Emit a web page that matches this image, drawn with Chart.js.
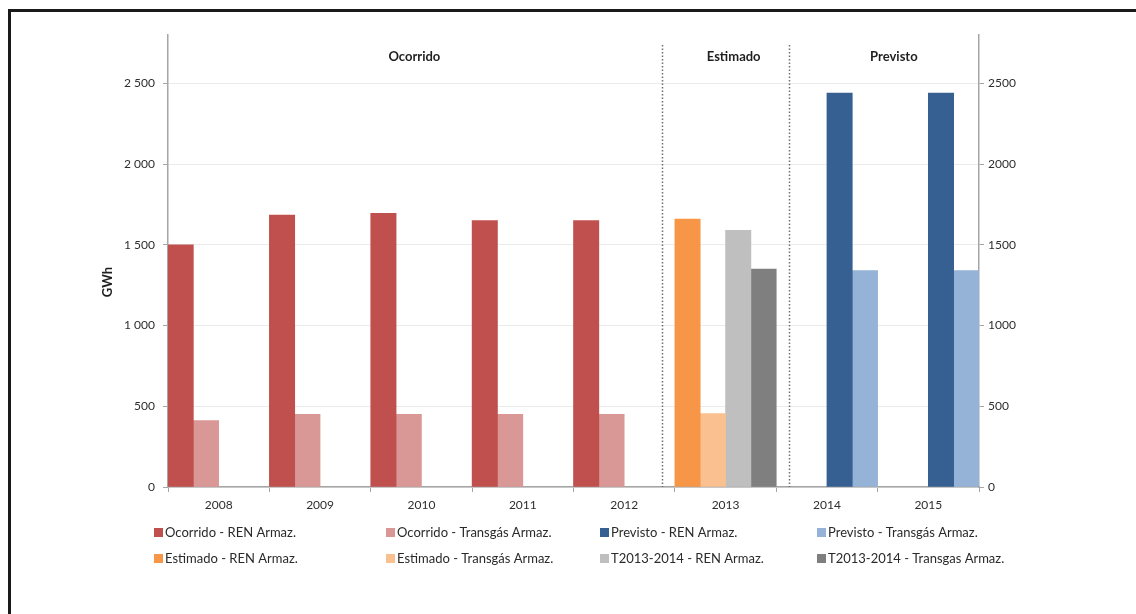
<!DOCTYPE html>
<html>
<head>
<meta charset="utf-8">
<script src="https://cdn.jsdelivr.net/npm/chart.js@4.4.0/dist/chart.umd.min.js"></script>
<style>
  html, body { margin: 0; padding: 0; background: #fff; overflow: hidden; }
  #frame { position: absolute; left: 8px; top: 9px; width: 1300px; height: 800px; border: 3px solid #1a1a1a; }
  #wrap { position: absolute; left: 0; top: 0; width: 1136px; height: 614px; }
</style>
</head>
<body>
<div id="frame"></div>
<div id="wrap"><canvas id="gas_chart" width="1136" height="614"></canvas></div>
<script>
// data
var years = ['2008', '2009', '2010', '2011', '2012', '2013', '2014', '2015']
var ocorridoREN      = [1500, 1685, 1695, 1650, 1650, null, null, null]
var ocorridoTransgas = [ 412,  450,  450,  450,  450, null, null, null]
var previstoREN      = [null, null, null, null, null, null, 2440, 2440]
var previstoTransgas = [null, null, null, null, null, null, 1340, 1340]
var estimadoREN      = [null, null, null, null, null, 1660, null, null]
var estimadoTransgas = [null, null, null, null, null,  455, null, null]
var t1314REN         = [null, null, null, null, null, 1590, null, null]
var t1314Transgas    = [null, null, null, null, null, 1350, null, null]
var yTicks = [0, 500, 1000, 1500, 2000, 2500]
var sectionNames = ['Ocorrido', 'Estimado', 'Previsto']

// where the section titles and dotted dividers sit on the category axis
var sectionAt = [1.93, 5.08, 6.66]
var dividerAt = [4.37, 5.63]

Chart.defaults.font.family = 'Lato'
Chart.defaults.font.size = 12
Chart.defaults.color = '#2e2e2e'

function spaced(v){ // 2500 -> "2 500"
  return String(v).replace(/\B(?=(\d{3})+(?!\d))/g, ' ')
}

var extras = {
  id: 'extras',
  afterDatasetsDraw: function(chart){
    var ctx = chart.ctx
    var x = chart.scales.x
    var area = chart.chartArea
    ctx.save()
    // dotted dividers
    ctx.strokeStyle = '#6e6e6e'
    ctx.lineWidth = 1.5
    ctx.setLineDash([1.5, 2])
    dividerAt.forEach(function(d){
      var px = Math.round(x.getPixelForValue(d)) + 0.5
      ctx.beginPath()
      ctx.moveTo(px, 45)
      ctx.lineTo(px, area.bottom)
      ctx.stroke()
    })
    ctx.setLineDash([])
    // section titles
    ctx.fillStyle = '#1f1f1f'
    ctx.font = 'bold 13px Lato'
    ctx.textAlign = 'center'
    ctx.textBaseline = 'middle'
    sectionNames.forEach(function(name, i){
      ctx.fillText(name, x.getPixelForValue(sectionAt[i]), 57)
    })
    // y axis title
    ctx.save()
    ctx.translate(108, 282)
    ctx.rotate(-Math.PI / 2)
    ctx.fillText('GWh', 0, 0)
    ctx.restore()
    // legend, 4 columns x 2 rows
    var cols = [154, 386, 600, 817]
    var rows = [533, 559]
    ctx.font = '13px Lato'
    ctx.textAlign = 'left'
    chart.data.datasets.forEach(function(ds, i){
      var lx = cols[i % 4]
      var ly = rows[Math.floor(i / 4)]
      ctx.fillStyle = ds.backgroundColor
      ctx.fillRect(lx, ly - 5, 9, 9)
      ctx.fillStyle = '#2a2a2a'
      ctx.fillText(ds.label, lx + 11, ly)
    })
    ctx.restore()
  }
}

var gas_canvas = document.getElementById('gas_chart')
var gas_chart = new Chart(gas_canvas.getContext('2d'), {
  type: 'bar',
  data: {
    labels: years,
    datasets: [
      { label: 'Ocorrido - REN Armaz.', data: ocorridoREN, backgroundColor: '#C0504D', stack: 's1' },
      { label: 'Ocorrido - Transgás Armaz.', data: ocorridoTransgas, backgroundColor: '#D99795', stack: 's2' },
      { label: 'Previsto - REN Armaz.', data: previstoREN, backgroundColor: '#366092', stack: 's3' },
      { label: 'Previsto - Transgás Armaz.', data: previstoTransgas, backgroundColor: '#95B3D7', stack: 's4' },
      { label: 'Estimado - REN Armaz.', data: estimadoREN, backgroundColor: '#F79646', stack: 's1' },
      { label: 'Estimado - Transgás Armaz.', data: estimadoTransgas, backgroundColor: '#FAC08F', stack: 's2' },
      { label: 'T2013-2014 - REN Armaz.', data: t1314REN, backgroundColor: '#BFBFBF', stack: 's3' },
      { label: 'T2013-2014 - Transgas Armaz.', data: t1314Transgas, backgroundColor: '#7F7F7F', stack: 's4' }
    ]
  },
  options: {
    responsive: false,
    animation: false,
    categoryPercentage: 1,
    barPercentage: 1,
    layout: { padding: { top: 35, left: 0, right: 0, bottom: 0 } },
    plugins: {
      legend: { display: false },
      tooltip: { enabled: false }
    },
    scales: {
      x: {
        stacked: true,
        grid: { offset: true, drawOnChartArea: false, tickLength: 5, color: '#a6a6a6' },
        border: { color: '#a6a6a6', width: 1.5 },
        ticks: { padding: 6, color: '#2e2e2e' },
        afterFit: function(s){ s.height = 127 }
      },
      y: {
        position: 'left',
        stacked: true,
        min: 0,
        max: 2800,
        afterBuildTicks: function(s){ s.ticks = yTicks.map(function(v){ return { value: v } }) },
        grid: { color: '#ebebeb', tickColor: '#a6a6a6', tickLength: 5 },
        border: { color: '#a6a6a6', width: 1.5 },
        ticks: { padding: 8, color: '#2e2e2e', callback: function(v){ return spaced(v) } },
        afterFit: function(s){ s.width = 168 }
      },
      y2: {
        position: 'right',
        min: 0,
        max: 2800,
        afterBuildTicks: function(s){ s.ticks = yTicks.map(function(v){ return { value: v } }) },
        grid: { drawOnChartArea: false, tickColor: '#a6a6a6', tickLength: 5 },
        border: { color: '#a6a6a6', width: 1.5 },
        ticks: { padding: 4, color: '#2e2e2e', callback: function(v){ return v } },
        afterFit: function(s){ s.width = 157 }
      }
    }
  },
  plugins: [extras]
})
</script>
</body>
</html>
